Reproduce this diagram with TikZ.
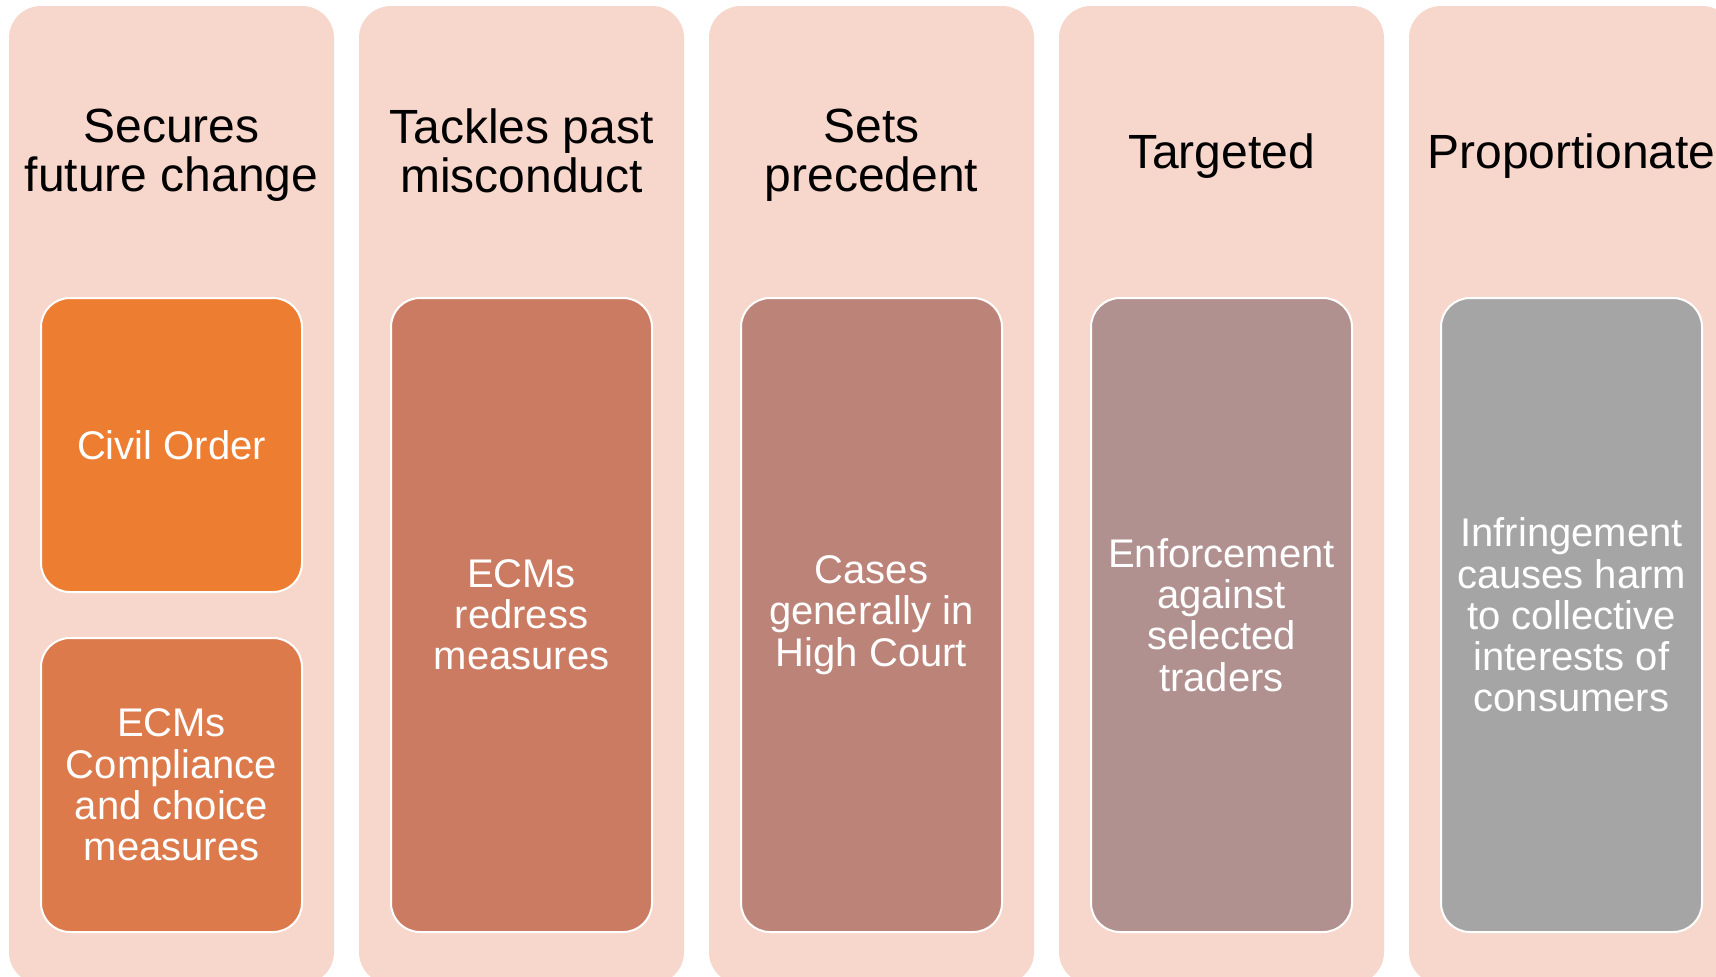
\documentclass[tikz,border=0pt]{standalone}
\usepackage{fontspec}
\setmainfont{Liberation Sans}

\definecolor{panelPink}{HTML}{F7D7CC}
\definecolor{boxOne}{HTML}{ED7D31}
\definecolor{boxTwo}{HTML}{DC7A4C}
\definecolor{boxThree}{HTML}{CC7B63}
\definecolor{boxFour}{HTML}{BC8479}
\definecolor{boxFive}{HTML}{B0918F}
\definecolor{boxSix}{HTML}{A5A5A5}

\begin{document}
\begin{tikzpicture}[x=0.5pt, y=-0.5pt,
		panel/.style={rectangle, rounded corners=16pt, fill=panelPink, minimum width=162.5pt, minimum height=489pt, inner sep=0pt},
		heading/.style={align=center, text=black, font=\fontsize{24}{24.6}\selectfont, execute at begin node=\strut, execute at end node=\strut},
		item/.style={rectangle, rounded corners=14.5pt, draw=white, line width=1pt, text=white, align=center, minimum width=130.5pt, font=\fontsize{20}{20.6}\selectfont},
		shortItem/.style={item, minimum height=147pt},
		tallItem/.style={item, minimum height=317pt}]
		\fill[white] (0,0) rectangle (1716,976);
		\useasboundingbox (0,0) rectangle (1716,976);
		\clip (0,0) rectangle (1716,976);

		% columns
		\node[panel](futurePanel) at (171.5,495){};
		\node[panel](pastPanel) at (521.5,495){};
		\node[panel](precedentPanel) at (871.5,495){};
		\node[panel](targetPanel) at (1221.5,495){};
		\node[panel](proportionPanel) at (1571.5,495){};

		% column headings
		\node[heading](futureHead) at (171.5,158){Secures\\future change};
		\node[heading](pastHead) at (521.5,158){Tackles past\\misconduct};
		\node[heading](precedentHead) at (871.5,158){Sets\\precedent};
		\node[heading](targetHead) at (1221.5,158){Targeted};
		\node[heading](proportionHead) at (1571.5,158){Proportionate};

		% measures
		\node[shortItem, fill=boxOne](civilBox) at (171.5,445){Civil Order};
		\node[shortItem, fill=boxTwo](complianceBox) at (171.5,785){ECMs\\Compliance\\and choice\\measures};
		\node[tallItem, fill=boxThree](redressBox) at (521.5,615){ECMs\\redress\\measures};
		\node[tallItem, fill=boxFour](courtBox) at (871.5,615){Cases\\generally in\\High Court};
		\node[tallItem, fill=boxFive](tradersBox) at (1221.5,615){Enforcement\\against\\selected\\traders};
		\node[tallItem, fill=boxSix](harmBox) at (1571.5,615){Infringement\\causes harm\\to collective\\interests of\\consumers};
	\end{tikzpicture}
\end{document}
